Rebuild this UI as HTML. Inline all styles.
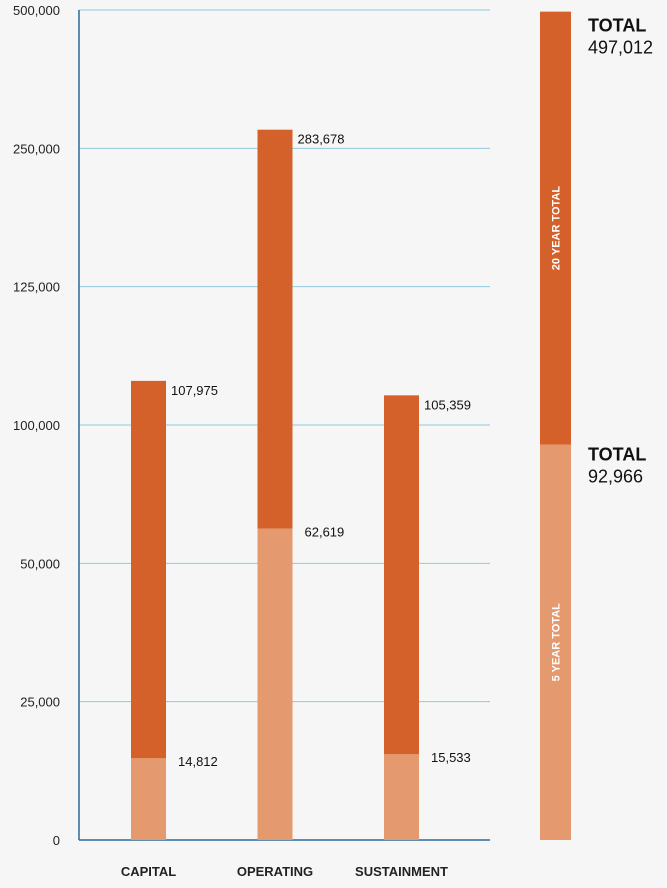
<!DOCTYPE html>
<html><head><meta charset="utf-8"><style>
body{margin:0;background:#f6f6f6;font-family:"Liberation Sans",Arial,sans-serif;}
</style></head><body>
<svg id="chart" width="667" height="888" viewBox="0 0 667 888" xmlns="http://www.w3.org/2000/svg" style="display:block;background:#f6f6f6"></svg>
<script>
const categories = ["CAPITAL","OPERATING","SUSTAINMENT"];
const fiveYear = [14812, 62619, 15533];
const twentyYear = [107975, 283678, 105359];
const tickValues = [0, 25000, 50000, 100000, 125000, 250000, 500000];
const tickLabels = ["0","25,000","50,000","100,000","125,000","250,000","500,000"];
const totalFive = 92966;
const totalTwenty = 497012;

const NS="http://www.w3.org/2000/svg";
const svg=document.getElementById('chart');
const yBottom=840, yTop=10, xAxis=79, xRight=490;
const step=(yBottom-yTop)/(tickValues.length-1);
function y(v){
  for(let i=0;i<tickValues.length-1;i++){
    if(v<=tickValues[i+1]){
      const f=(v-tickValues[i])/(tickValues[i+1]-tickValues[i]);
      return yBottom-(i+f)*step;
    }
  }
  return yTop;
}
function x(i){return 131+i*126.5;}
const bw=35;
function el(tag,attrs,text){const e=document.createElementNS(NS,tag);for(const k in attrs)e.setAttribute(k,attrs[k]);if(text!==undefined)e.textContent=text;svg.appendChild(e);return e;}

tickValues.forEach((v,i)=>{
  const g=el('line',{x1:xAxis,x2:xRight,y1:y(v),y2:y(v),stroke:i===0?'#2a6a9a':'#8fcbdc','stroke-width':i===0?1.5:1});
  
  
  const t=el('text',{x:60,y:y(v)+5,'text-anchor':'end','font-size':13,fill:'#222'},tickLabels[i]);
  
  
});
const ax=el('line',{x1:xAxis,x2:xAxis,y1:yTop,y2:yBottom,stroke:'#2a6a9a','stroke-width':1.5});



categories.forEach((c,i)=>{
  const b2=el('rect',{x:x(i),y:y(twentyYear[i]),width:bw,height:yBottom-y(twentyYear[i]),fill:'#d4602a'});
  
  
  const b1=el('rect',{x:x(i),y:y(fiveYear[i]),width:bw,height:yBottom-y(fiveYear[i]),fill:'#e4996e'});
  
  
  const l2=el('text',{x:x(i)+bw+5,y:y(twentyYear[i])+14,'font-size':13,fill:'#111'},twentyYear[i].toLocaleString('en-US'));
  
  
  const l1=el('text',{x:x(i)+bw+12,y:y(fiveYear[i])+8,'font-size':13,fill:'#111'},fiveYear[i].toLocaleString('en-US'));
  
  
  const cl=el('text',{x:x(i)+bw/2,y:876,'text-anchor':'middle','font-size':13,'font-weight':'bold',fill:'#222'},c);
  
  
});

const rx=540,rw=31;
const tr=el('rect',{x:rx,y:y(totalTwenty),width:rw,height:yBottom-y(totalTwenty),fill:'#d4602a'});


const fr=el('rect',{x:rx,y:y(totalFive),width:rw,height:yBottom-y(totalFive),fill:'#e4996e'});


const m20=(y(totalTwenty)+y(totalFive))/2, m5=(y(totalFive)+yBottom)/2;
const r1=el('text',{x:0,y:0,transform:`translate(${rx+rw/2+4},${m20}) rotate(-90)`,'text-anchor':'middle','font-size':11,'font-weight':'bold',fill:'#fff'},'20 YEAR TOTAL');


const r2=el('text',{x:0,y:0,transform:`translate(${rx+rw/2+4},${m5}) rotate(-90)`,'text-anchor':'middle','font-size':11,'font-weight':'bold',fill:'#fff'},'5 YEAR TOTAL');


const t1=el('text',{x:588,y:y(totalTwenty)+20,'font-size':18,'font-weight':'bold',fill:'#111'},'TOTAL');


const t2=el('text',{x:588,y:y(totalTwenty)+42,'font-size':18,fill:'#111'},totalTwenty.toLocaleString('en-US'));


const t3=el('text',{x:588,y:y(totalFive)+16,'font-size':18,'font-weight':'bold',fill:'#111'},'TOTAL');


const t4=el('text',{x:588,y:y(totalFive)+38,'font-size':18,fill:'#111'},totalFive.toLocaleString('en-US'));


</script>
</body></html>
